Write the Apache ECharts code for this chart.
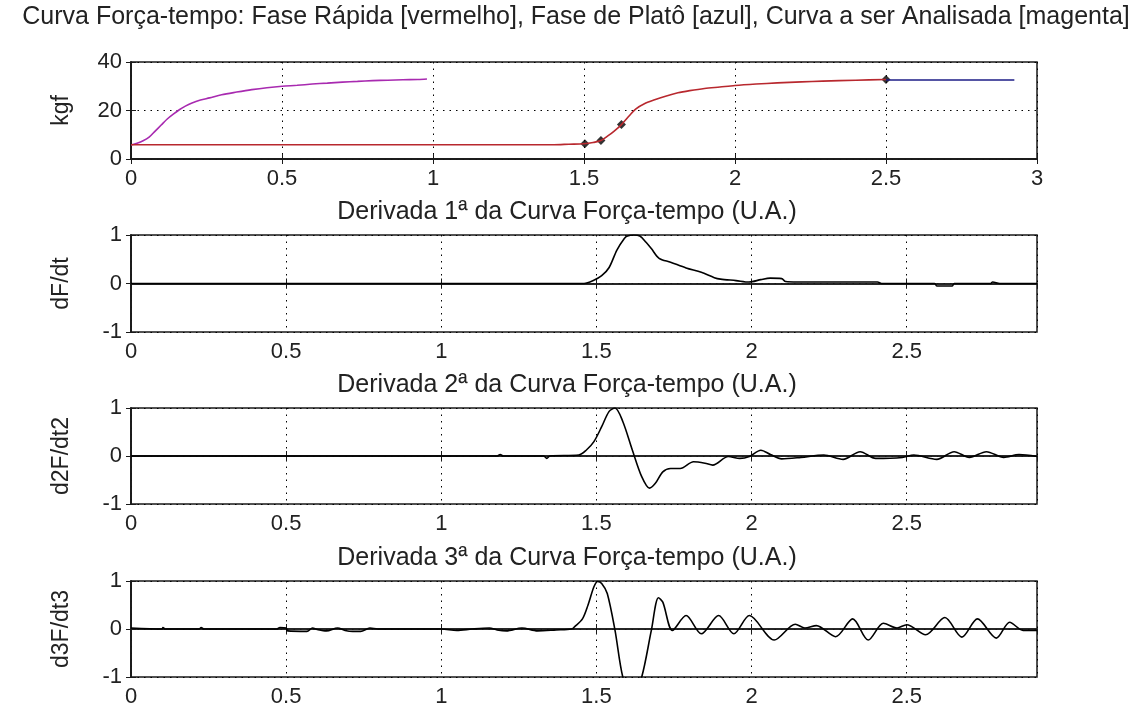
<!DOCTYPE html>
<html>
<head>
<meta charset="utf-8">
<script src="https://cdn.jsdelivr.net/npm/echarts@6/dist/echarts.min.js"></script>
<style>
html, body { margin: 0; padding: 0; background: #fff; }
#chart { width: 1142px; height: 710px; }
</style>
</head>
<body>
<div id="chart"></div>
<script>
// curva analisada (magenta)
var tempoAnalisada = [0, 0.02, 0.04, 0.06, 0.08, 0.1, 0.12, 0.14, 0.16, 0.18, 0.2, 0.23, 0.26, 0.3, 0.35, 0.4, 0.45, 0.5, 0.55, 0.6, 0.65, 0.7, 0.75, 0.8, 0.85, 0.9, 0.95, 0.98];
var forcaAnalisada = [5.8, 6.5, 7.5, 9, 11.5, 14, 16.5, 18.5, 20.3, 21.8, 23, 24.3, 25.2, 26.5, 27.6, 28.6, 29.4, 30, 30.4, 30.9, 31.3, 31.7, 32, 32.3, 32.5, 32.7, 32.8, 33];

// fase rapida (vermelho)
var tempoRapida = [0, 1.40, 1.45, 1.50, 1.53, 1.556, 1.58, 1.60, 1.624, 1.65, 1.671, 1.70, 1.734, 1.77, 1.811, 1.85, 1.899, 1.95, 2.0, 2.07, 2.14, 2.22, 2.29, 2.4, 2.5];
var forcaRapida = [5.9, 5.9, 6.1, 6.3, 6.8, 7.6, 9.6, 11.5, 14.2, 17.8, 20.6, 22.8, 24.4, 25.9, 27.3, 28.2, 29.1, 29.7, 30.3, 30.9, 31.4, 31.8, 32.1, 32.5, 32.8];

// fase de plato (azul)
var tempoPlato = [2.5, 2.925];
var forcaPlato = [32.6, 32.6];

// pontos marcados
var tempoPontos = [1.503, 1.556, 1.624, 2.5];
var forcaPontos = [6.3, 7.6, 14.2, 32.8];

// derivadas (U.A.)
var tempoD1 = [0, 1.46, 1.49, 1.517, 1.541, 1.566, 1.59, 1.60, 1.62, 1.64, 1.66, 1.677, 1.702, 1.739, 1.789, 1.838, 1.88, 1.9, 1.95, 1.992, 2.03, 2.06, 2.097, 2.11, 2.147, 2.406, 2.419, 2.59, 2.597, 2.647, 2.653, 2.77, 2.777, 2.80, 2.92];
var valorD1 = [0, 0, 0.06, 0.16, 0.33, 0.69, 0.93, 0.98, 1.0, 0.98, 0.85, 0.72, 0.52, 0.44, 0.32, 0.23, 0.12, 0.09, 0.06, 0.03, 0.08, 0.11, 0.1, 0.04, 0.03, 0.03, 0, 0, -0.05, -0.05, 0, 0, 0.03, 0, 0];

var tempoD2 = [0, 1.18, 1.19, 1.20, 1.33, 1.34, 1.35, 1.443, 1.467, 1.492, 1.517, 1.541, 1.56, 1.585, 1.616, 1.646, 1.671, 1.69, 1.714, 1.739, 1.77, 1.813, 1.85, 1.875, 1.925, 1.962, 1.993, 2.03, 2.061, 2.097, 2.159, 2.233, 2.295, 2.35, 2.4, 2.486, 2.523, 2.597, 2.653, 2.702, 2.757, 2.813, 2.862, 2.92];
var valorD2 = [0, 0, 0.03, 0, 0, -0.05, 0, 0.02, 0.12, 0.3, 0.61, 0.93, 1.0, 0.72, 0.12, -0.43, -0.67, -0.57, -0.33, -0.26, -0.26, -0.12, -0.15, -0.19, -0.01, -0.05, -0.01, 0.12, 0.03, -0.06, -0.03, 0.02, -0.07, 0.09, -0.05, -0.03, 0.02, -0.07, 0.09, -0.03, 0.09, -0.03, 0.03, -0.01];

var tempoD3 = [0, 0.1, 0.103, 0.11, 0.22, 0.226, 0.235, 0.47, 0.48, 0.5, 0.505, 0.567, 0.585, 0.60, 0.63, 0.666, 0.69, 0.715, 0.74, 0.77, 0.795, 1.0, 1.05, 1.1, 1.155, 1.18, 1.21, 1.26, 1.31, 1.37, 1.42, 1.43, 1.455, 1.473, 1.492, 1.504, 1.517, 1.535, 1.56, 1.585, 1.615, 1.646, 1.677, 1.70, 1.714, 1.745, 1.789, 1.838, 1.894, 1.943, 1.993, 2.073, 2.141, 2.172, 2.209, 2.271, 2.326, 2.376, 2.425, 2.469, 2.5, 2.561, 2.623, 2.678, 2.728, 2.789, 2.832, 2.875, 2.92];
var valorD3 = [0.02, 0, 0.03, 0, 0, 0.03, 0, 0, 0.03, 0.02, -0.04, -0.05, 0.02, -0.01, -0.04, 0.02, -0.03, -0.05, -0.05, 0.02, 0, 0, -0.03, 0, 0.02, -0.02, -0.04, 0.02, -0.04, -0.02, 0, 0.05, 0.21, 0.5, 0.88, 0.99, 0.95, 0.74, -0.03, -1.0, -1.45, -1.0, -0.03, 0.65, 0.56, -0.03, 0.28, -0.1, 0.28, -0.1, 0.28, -0.23, 0.1, 0.02, 0.07, -0.16, 0.21, -0.23, 0.12, 0.02, 0.09, -0.12, 0.24, -0.17, 0.21, -0.19, 0.14, -0.03, -0.03];

var titulo = 'Curva Força-tempo: Fase Rápida [vermelho], Fase de Platô [azul], Curva a ser Analisada [magenta]';
var subtitulos = ['Derivada 1ª da Curva Força-tempo (U.A.)', 'Derivada 2ª da Curva Força-tempo (U.A.)', 'Derivada 3ª da Curva Força-tempo (U.A.)'];
var nomesY = ['kgf', 'dF/dt', 'd2F/dt2', 'd3F/dt3'];

function pares(xs, ys) {
    var out = [];
    for (var i = 0; i < xs.length; i++) out.push([xs[i], ys[i]]);
    return out;
}

var fonte = 'Liberation Sans';
var tamFonte = 22;
var tamTitulo = 25;
var tops = [62, 235, 408, 581];
var alturas = [97, 97, 96, 96];
var pontilhado = { color: '#000', width: 1, type: [1.5, 5] };
var corEixo = '#1a1a1a';

var grids = [], xAxes = [], yAxes = [];
for (var g = 0; g < 4; g++) {
    grids.push({ left: 131, top: tops[g], width: 906, height: alturas[g], show: true, borderColor: corEixo, borderWidth: 1.5, backgroundColor: '#fff' });
    xAxes.push({
        type: 'value', gridIndex: g, min: 0, max: g == 0 ? 3 : 2.92, interval: 0.5,
        axisLine: { lineStyle: { color: corEixo, width: 1.5 } },
        axisTick: { inside: true, length: 5, lineStyle: { color: corEixo } },
        axisLabel: { color: '#222', fontFamily: fonte, fontSize: tamFonte, margin: 9, showMaxLabel: g == 0 },
        splitLine: { show: true, lineStyle: pontilhado }
    });
    yAxes.push({
        type: 'value', gridIndex: g,
        min: g == 0 ? 0 : -1, max: g == 0 ? 40 : 1, interval: g == 0 ? 20 : 1,
        name: nomesY[g], nameLocation: 'middle', nameGap: 58, nameRotate: 90,
        nameTextStyle: { color: '#222', fontFamily: fonte, fontSize: 23 },
        axisLine: { lineStyle: { color: corEixo, width: 1.5 } },
        axisTick: { inside: true, length: 5, lineStyle: { color: corEixo } },
        axisLabel: { color: '#222', fontFamily: fonte, fontSize: tamFonte, margin: 9 },
        splitLine: { show: true, lineStyle: pontilhado }
    });
}
// eixos espelhados (topo / direita) so com marcas
for (var g = 0; g < 4; g++) {
    xAxes.push({
        type: 'value', gridIndex: g, position: 'top', min: 0, max: g == 0 ? 3 : 2.92, interval: 0.5,
        axisLine: { lineStyle: { color: corEixo, width: 1.5 } },
        axisTick: { inside: true, length: 5, lineStyle: { color: corEixo } },
        axisLabel: { show: false }, splitLine: { show: false }
    });
    yAxes.push({
        type: 'value', gridIndex: g, position: 'right',
        min: g == 0 ? 0 : -1, max: g == 0 ? 40 : 1, interval: g == 0 ? 20 : 1,
        axisLine: { lineStyle: { color: corEixo, width: 1.5 } },
        axisTick: { inside: true, length: 5, lineStyle: { color: corEixo } },
        axisLabel: { show: false }, splitLine: { show: false }
    });
}

var titulos = [{
    text: titulo, left: 571, top: 0, textAlign: 'center',
    textStyle: { color: '#222', fontFamily: fonte, fontSize: tamTitulo, fontWeight: 'normal' }
}];
for (var k = 0; k < 3; k++) {
    titulos.push({
        text: subtitulos[k], left: 562, top: tops[k + 1] - 40, textAlign: 'center',
        textStyle: { color: '#222', fontFamily: fonte, fontSize: tamTitulo, fontWeight: 'normal' }
    });
}

function linha(dados, eixo, cor, suave) {
    return {
        type: 'line', xAxisIndex: eixo, yAxisIndex: eixo, data: dados,
        showSymbol: false, smooth: suave, clip: true, animation: false,
        lineStyle: { color: cor, width: 1.6 }
    };
}

var series = [
    linha(pares(tempoAnalisada, forcaAnalisada), 0, '#a82ab0', 0.3),
    linha(pares(tempoRapida, forcaRapida), 0, '#b8282e', 0.3),
    linha(pares(tempoPlato, forcaPlato), 0, '#1c1c86', false),
    {
        type: 'scatter', xAxisIndex: 0, yAxisIndex: 0, data: pares(tempoPontos, forcaPontos),
        symbol: 'diamond', symbolSize: 9, itemStyle: { color: '#000' }, animation: false
    },
    linha(pares(tempoD1, valorD1), 1, '#000', 0.3),
    linha(pares(tempoD2, valorD2), 2, '#000', 0.3),
    linha(pares(tempoD3, valorD3), 3, '#000', 0.3)
];

var myChart = echarts.init(document.getElementById('chart'));
myChart.setOption({
    backgroundColor: '#fff',
    title: titulos,
    grid: grids,
    xAxis: xAxes,
    yAxis: yAxes,
    series: series
});
</script>
</body>
</html>
